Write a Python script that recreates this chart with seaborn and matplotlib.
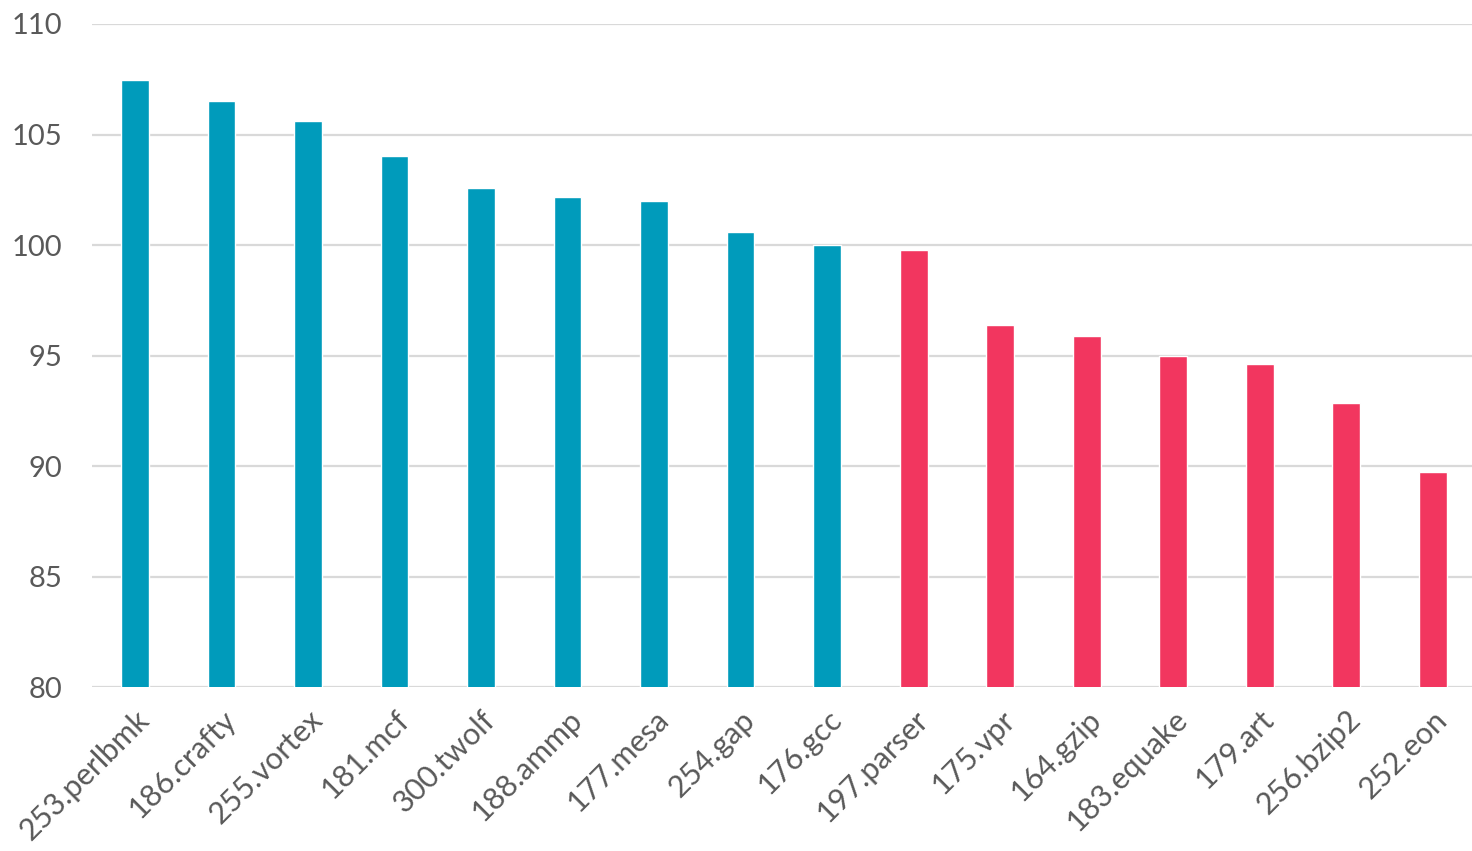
import matplotlib
matplotlib.use("Agg")
import matplotlib.pyplot as plt
import seaborn as sns
import pandas as pd

benchmarks = ["253.perlbmk", "186.crafty", "255.vortex", "181.mcf", "300.twolf",
              "188.ammp", "177.mesa", "254.gap", "176.gcc", "197.parser",
              "175.vpr", "164.gzip", "183.equake", "179.art", "256.bzip2", "252.eon"]
scores = [107.47, 106.52, 105.61, 104.03, 102.58, 102.17, 101.99, 100.59,
          100.02, 99.77, 96.38, 95.88, 94.98, 94.62, 92.85, 89.73]
yticks = [80, 85, 90, 95, 100, 105, 110]

teal = "#009BBB"
pink = "#F2365F"
text_color = "#595959"

df = pd.DataFrame({"benchmark": benchmarks, "score": scores})
df["group"] = ["above" if s >= 100 else "below" for s in scores]

sns.set_theme(style="white")
plt.rcParams["font.family"] = ["Lato", "DejaVu Sans"]

fig = plt.figure(figsize=(14.72, 8.51), dpi=100)
ax = fig.add_axes([0.0623, 0.1927, 0.9405, 0.7791])

sns.barplot(data=df, x="benchmark", y="score", hue="group",
            palette={"above": teal, "below": pink}, width=0.32,
            dodge=False, legend=False, ax=ax, zorder=3, saturation=1)

ax.set_ylim(80, 110)
ax.set_xlim(-0.5, len(benchmarks) - 0.5)
ax.set_yticks(yticks)
ax.yaxis.grid(True, color="#D9D9D9", linewidth=1.6, zorder=0)
ax.set_axisbelow(True)
for s in ax.spines.values():
    s.set_visible(False)
ax.set_xlabel("")
ax.set_ylabel("")
ax.tick_params(axis="y", length=0, pad=21, labelsize=21, labelcolor=text_color)
ax.tick_params(axis="x", length=0, pad=13, labelsize=22, labelcolor=text_color)
for lab in ax.get_xticklabels():
    lab.set_rotation(45)
    lab.set_ha("right")
    lab.set_rotation_mode("anchor")

fig.savefig("out.png", dpi=100)
